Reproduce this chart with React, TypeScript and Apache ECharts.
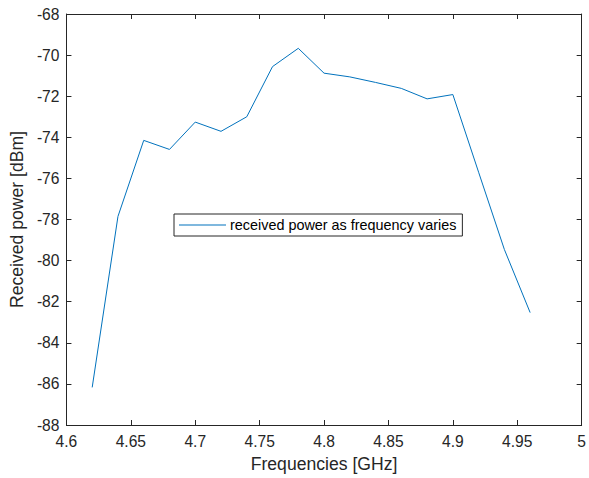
import React, { useEffect, useRef } from "react";
import * as echarts from "echarts";

const frequencies = [4.62, 4.64, 4.66, 4.68, 4.7, 4.72, 4.74, 4.76, 4.78, 4.8, 4.82, 4.84, 4.86, 4.88, 4.9, 4.92, 4.94, 4.96];
const powers = [-86.17, -77.85, -74.15, -74.59, -73.26, -73.71, -73.0, -70.56, -69.67, -70.88, -71.06, -71.33, -71.62, -72.13, -71.92, -75.7, -79.46, -82.53];
const seriesName = "received power as frequency varies";
const xTitle = "Frequencies [GHz]";
const yTitle = "Received power [dBm]";

const FONT = "Liberation Sans, Arial, Helvetica, sans-serif";
const AX = "#262626";

export default function App() {
  const ref = useRef<HTMLDivElement>(null);
  useEffect(() => {
    if (!ref.current) return;
    const chart = echarts.init(ref.current, undefined, { renderer: "svg" });
    const fmtX = (v: number) => parseFloat(v.toFixed(2)).toString();
    const commonX = {
      type: "value" as const,
      min: 4.6,
      max: 5,
      interval: 0.05,
      splitLine: { show: false },
      axisLine: { show: true, onZero: false, lineStyle: { color: AX, width: 1 } },
      axisTick: { show: true, inside: true, length: 5, lineStyle: { color: AX } },
    };
    const commonY = {
      type: "value" as const,
      min: -88,
      max: -68,
      interval: 2,
      splitLine: { show: false },
      axisLine: { show: true, onZero: false, lineStyle: { color: AX, width: 1 } },
      axisTick: { show: true, inside: true, length: 5, lineStyle: { color: AX } },
    };
    chart.setOption({
      animation: false,
      backgroundColor: "#ffffff",
      grid: { left: 64, right: 5, top: 14, bottom: 52, containLabel: false },
      legend: {
        show: true,
        left: 174,
        top: 214,
        orient: "horizontal",
        data: [{ name: seriesName }],
        icon: "rect",
        itemWidth: 47,
        itemHeight: 1,
        itemGap: 0,
        padding: [4, 6, 4, 5],
        borderColor: AX,
        borderWidth: 1,
        backgroundColor: "#ffffff",
        textStyle: { fontFamily: FONT, fontSize: 14.4, color: "#000000", padding: [0, 0, 0, -1] },
      },
      xAxis: [
        {
          ...commonX,
          position: "bottom",
          name: xTitle,
          nameLocation: "middle",
          nameGap: 30,
          nameTextStyle: { fontFamily: FONT, fontSize: 17.6, color: AX },
          axisLabel: { fontFamily: FONT, fontSize: 15.6, color: AX, margin: 8, formatter: fmtX },
        },
        {
          ...commonX,
          position: "top",
          axisLabel: { show: false },
        },
      ],
      yAxis: [
        {
          ...commonY,
          position: "left",
          name: yTitle,
          nameLocation: "middle",
          nameGap: 37,
          nameTextStyle: { fontFamily: FONT, fontSize: 17.6, color: AX },
          axisLabel: { fontFamily: FONT, fontSize: 15.6, color: AX, margin: 7 },
        },
        {
          ...commonY,
          position: "right",
          axisLabel: { show: false },
        },
      ],
      series: [
        {
          name: seriesName,
          type: "line",
          data: frequencies.map((f, i) => [f, powers[i]]),
          symbol: "none",
          lineStyle: { color: "#0072BD", width: 1 },
          itemStyle: { color: "#0072BD" },
          xAxisIndex: 0,
          yAxisIndex: 0,
        },
      ],
    });
    return () => chart.dispose();
  }, []);
  return <div ref={ref} style={{ width: 589, height: 478, position: "absolute", left: 0, top: 0 }} />;
}
